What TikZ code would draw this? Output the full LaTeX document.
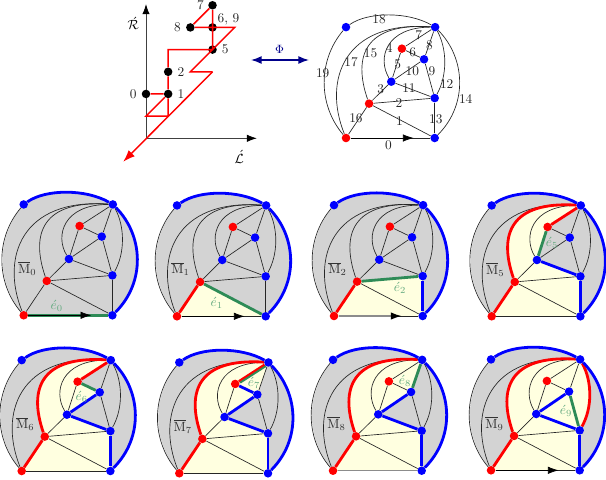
\documentclass[tikz,border=0pt]{standalone}
\usepackage{amsmath}
\usepackage{tikz}
\usetikzlibrary{positioning, arrows.meta, calc, backgrounds}

\definecolor{regiongray}{RGB}{211,211,211}
\definecolor{regionyellow}{RGB}{255,255,224}
\definecolor{peelgreen}{RGB}{46,139,87}
\definecolor{peellabel}{RGB}{100,170,128}
\definecolor{phiblue}{RGB}{0,0,139}

% curved edges of the map, start point given where they are used
\newcommand{\edgefour}{.. controls (1.4,3.6) and (1.8,5) ..}
\newcommand{\edgetwelve}{.. controls (4.57,2.8) and (4.57,4) ..}
\newcommand{\edgetwelveback}{.. controls (4.57,4) and (4.57,2.8) ..}
\newcommand{\edgefourteen}{.. controls (5.5,1.5) and (5.4,3.6) ..}
\newcommand{\edgefourteenback}{.. controls (5.4,3.6) and (5.5,1.5) ..}
\newcommand{\edgefifteen}{.. controls (0.3,3.7) and (0.85,5.2) ..}
\newcommand{\edgeseventeen}{.. controls (-1.05,2.6) and (-0.1,5.3) ..}
\newcommand{\edgeeighteen}{.. controls (1,5.7) and (2.8,5.7) ..}
\newcommand{\edgenineteen}{.. controls (-1.27,1.5) and (-1.27,3.5) ..}

% vertices first, everything else goes underneath them
% #1 shift, #2 prefix, #3 fills, #4 heavy edges and labels
\newcommand{\planarmap}[4]{%
    \begin{scope}[shift={#1}, x=16.63pt, y=16.63pt, name prefix=#2-]
    \node[redv] (ll) at (0,0) {}; \node[bluev] (lr) at (4,0) {};
    \node[redv] (rc) at (1.04,1.55) {}; \node[bluev] (bd) at (4,1.8) {};
    \node[bluev] (be) at (2.04,2.54) {}; \node[bluev] (bf) at (3.52,3.55) {};
    \node[redv] (rg) at (2.52,4.03) {}; \node[bluev] (ur) at (4.02,5) {};
    \node[bluev] (ul) at (0,5) {};
    \coordinate (tipend) at (3.05,0);
    \begin{scope}[on background layer]
    #3
    \foreach \s/\t in {ll/lr, rc/lr, rc/bd, rc/be, ll/rc, be/rg, rg/bf, rg/ur, bf/ur, bf/bd, be/bf, be/bd, bd/lr}
        \draw[thinedge] (\s) -- (\t);
    \draw[thinedge] (be) \edgefour (ur);
    \draw[thinedge] (bd) \edgetwelve (ur);
    \draw[thinedge] (lr) \edgefourteen (ur);
    \draw[thinedge] (rc) \edgefifteen (ur);
    \draw[thinedge] (ll) \edgeseventeen (ur);
    \draw[thinedge] (ul) \edgeeighteen (ur);
    \draw[thinedge] (ll) \edgenineteen (ul);
    #4
    \end{scope}
    \end{scope}}

% gray outside of the outer face
\newcommand{\grayface}{\fill[regiongray] (ll.center) \edgenineteen (ul.center) \edgeeighteen (ur.center) \edgefourteenback (lr.center) -- cycle;}
% outer blue boundary, shared by all the panels
\newcommand{\blueouter}{\draw[blueedge] (lr) \edgefourteen (ur); \draw[blueedge] (ul) \edgeeighteen (ur);}
% red side up to the top right vertex
\newcommand{\redupper}{\draw[rededge] (ll) -- (rc); \draw[rededge] (rc) \edgefifteen (ur);}

\begin{document}
\begin{tikzpicture}[
        x=0.75pt, y=-0.75pt,
        vertex/.style={circle, inner sep=0pt, minimum size=6.4pt},
        redv/.style={vertex, fill=red},
        bluev/.style={vertex, fill=blue},
        blackv/.style={vertex, fill=black},
        thinedge/.style={draw=black!85, line width=0.5pt},
        blueedge/.style={draw=blue, line width=2.1pt},
        rededge/.style={draw=red, line width=2.1pt},
        greenedge/.style={draw=peelgreen, line width=2.1pt},
        tipedge/.style={draw=black, line width=0.5pt, -{Latex[length=8pt, width=5.5pt]}},
        redpath/.style={draw=red, line width=1.1pt},
        axis/.style={draw=black!75, line width=0.55pt, -{Latex[length=7.5pt, width=5.5pt, black]}},
        steplab/.style={font=\normalsize, text=black!85, inner sep=0pt},
        edgelab/.style={text=black!85, inner sep=0pt},
        maplab/.style={text=black!80, inner sep=0pt},
        peellab/.style={text=peellabel, inner sep=0pt},
    ]
    \useasboundingbox (0,0) rectangle (606,479);

    % Lattice walk
    \begin{scope}[shift={(146,138.3)}, x=16.63pt, y=16.63pt, name prefix=walk-]
    \coordinate (o) at (0,0); \coordinate (ytop) at (0,6.05); \coordinate (xend) at (5,0);
    \coordinate (w1) at (0,1); \coordinate (w2) at (1,1); \coordinate (w3) at (1,4);
    \coordinate (w4) at (4,5); \coordinate (w5) at (2,3); \coordinate (w6) at (3,3);
    \coordinate (w7) at (-1.03,-1.06);
    \draw[axis] (o) -- (ytop);
    \draw[axis] (o) -- (xend);
    \node[blackv] (p0) at (0,2) {}; \node[blackv] (p1) at (1,2) {};
    \node[blackv] (p2) at (1,3) {}; \node[blackv] (p5) at (3,4) {};
    \node[blackv] (p6) at (3,5) {}; \node[blackv] (p7) at (3,6) {};
    \node[blackv] (p8) at (2,5) {};
    \draw[redpath] (p0) -- (p1) -- (w1) -- (w2) -- (p1) -- (p2) -- (w3) -- (p5.center)
        -- (p6.center) -- (p7) -- (p8) -- (p6.center) -- (w4) -- (p5.center) -- (w5) -- (w6);
    \draw[redpath, -{Latex[length=9pt, width=6.5pt]}] (w6) -- (w7);
    \node[steplab, left=3.5pt of p0] (l0) {0}; \node[steplab, right=3.5pt of p1] (l1) {1};
    \node[steplab, right=3.5pt of p2] (l2) {2}; \node[steplab, right=3.5pt of p5] (l5) {5};
    \node[steplab] (l69) at (3.72,5.38) {6, 9}; \node[steplab, left=3pt of p7] (l7) {7};
    \node[steplab, left=3.5pt of p8] (l8) {8};
    \node[inner sep=0pt] (ylab) at (-0.57,5.18) {$\acute{\mathcal{R}}$};
    \node[inner sep=0pt] (xlab) at (4.2,-0.83) {$\acute{\mathcal{L}}$};
    \end{scope}

    % Bijection arrow
    \coordinate (phil) at (251,60); \coordinate (phir) at (309,60);
    \draw[draw=phiblue, line width=1.1pt, {Latex[length=8pt, width=6pt]}-{Latex[length=8pt, width=6pt]}] (phil) -- (phir);
    \node[text=phiblue, font=\small, inner sep=0pt] (philab) at (279.5,49) {$\Phi$};

    % Labelled map
    \planarmap{(346,138)}{top}{}{
        \draw[tipedge] (ll) -- (tipend);
        \foreach \lx/\ly/\txt in {1.49/5.37/18, 3.28/4.62/7, 1.95/4.08/4, 1.11/3.82/15, 3.01/3.86/6,
            3.76/4.2/8, .23/3.4/17, 2.33/3.32/5, 2.99/2.99/10, 3.88/2.99/9, -1.05/2.92/19,
            1.56/2.2/3, 2.84/2.24/11, 4.54/2.44/12, 5.4/1.74/14, 2.39/1.59/2, .45/.9/16,
            4.05/.87/13, 2.41/.75/1, 1.91/-.32/0}
            \node[edgelab] (e\txt) at (\lx,\ly) {\txt};
    }

    % Row 1
    \planarmap{(23.7,315.3)}{mzero}{\grayface}{
        \draw[greenedge] (ll) -- (lr);
        \draw[tipedge] (ll) -- (tipend);
        \blueouter
        \node[maplab] (mlab) at (0.16,2.12) {$\overline{\mathrm{M}}_0$};
        \node[peellab] (elab) at (1.49,0.44) {$\acute{e}_0$};
    }
    \planarmap{(177,316.3)}{mone}{\grayface
        \fill[regionyellow] (ll.center) -- (rc.center) -- (lr.center) -- cycle;}{
        \draw[tipedge] (ll) -- (tipend);
        \draw[rededge] (ll) -- (rc);
        \draw[greenedge] (rc) -- (lr);
        \blueouter
        \node[maplab] (mlab) at (0.16,2.14) {$\overline{\mathrm{M}}_1$};
        \node[peellab] (elab) at (1.79,0.59) {$\acute{e}_1$};
    }
    \planarmap{(334,316)}{mtwo}{\grayface
        \fill[regionyellow] (ll.center) -- (rc.center) -- (bd.center) -- (lr.center) -- cycle;}{
        \draw[draw=black!45, line width=1pt, -{Latex[length=8pt, width=5.5pt, black]}] (ll) -- (tipend);
        \draw[rededge] (ll) -- (rc);
        \draw[greenedge] (rc) -- (bd);
        \draw[blueedge] (bd) -- (lr);
        \blueouter
        \node[maplab] (mlab) at (0.16,2.12) {$\overline{\mathrm{M}}_2$};
        \node[peellab] (elab) at (2.98,1.25) {$\acute{e}_2$};
    }
    \planarmap{(491.7,316.3)}{mfive}{\grayface
        \fill[regionyellow] (ll.center) -- (rc.center) \edgefifteen (ur.center) -- (rg.center) -- (be.center) -- (bd.center) -- (lr.center) -- cycle;}{
        \redupper
        \draw[rededge] (ur) -- (rg);
        \draw[greenedge] (rg) -- (be);
        \draw[blueedge] (be) -- (bd);
        \draw[blueedge] (bd) -- (lr);
        \blueouter
        \node[maplab] (mlab) at (0.16,2.12) {$\overline{\mathrm{M}}_5$};
        \node[peellab] (elab) at (2.72,3.32) {$\acute{e}_5$};
    }

    % Row 2
    \planarmap{(21.7,471)}{msix}{\grayface
        \fill[regionyellow] (ll.center) -- (rc.center) \edgefifteen (ur.center) -- (rg.center) -- (bf.center) -- (be.center) -- (bd.center) -- (lr.center) -- cycle;}{
        \redupper
        \draw[rededge] (ur) -- (rg);
        \draw[greenedge] (rg) -- (bf);
        \draw[blueedge] (bf) -- (be);
        \draw[blueedge] (be) -- (bd);
        \draw[blueedge] (bd) -- (lr);
        \blueouter
        \node[maplab] (mlab) at (0.16,2.12) {$\overline{\mathrm{M}}_6$};
        \node[peellab] (elab) at (2.71,3.35) {$\acute{e}_6$};
    }
    \planarmap{(179.3,473.3)}{mseven}{\grayface
        \fill[regionyellow] (ll.center) -- (rc.center) \edgefifteen (ur.center) -- (bf.center) -- (be.center) -- (bd.center) -- (lr.center) -- cycle;}{
        \redupper
        \draw[rededge] (ur) -- (rg);
        \draw[greenedge, line width=1.4pt, transform canvas={xshift=0.9pt, yshift=-0.9pt}] (rg) -- (ur);
        \draw[blueedge] (rg) -- (bf);
        \draw[blueedge] (bf) -- (be);
        \draw[blueedge] (be) -- (bd);
        \draw[blueedge] (bd) -- (lr);
        \blueouter
        \node[maplab] (mlab) at (0.16,2.12) {$\overline{\mathrm{M}}_7$};
        \node[peellab] (elab) at (3.37,4.06) {$\acute{e}_7$};
    }
    \planarmap{(333,470.7)}{meight}{\grayface
        \fill[regionyellow] (ll.center) -- (rc.center) \edgefifteen (ur.center) -- (bf.center) -- (be.center) -- (bd.center) -- (lr.center) -- cycle;}{
        \draw[draw=black!45, line width=1pt] (ll) -- (lr);
        \redupper
        \draw[greenedge] (ur) -- (bf);
        \draw[blueedge] (bf) -- (be);
        \draw[blueedge] (be) -- (bd);
        \draw[blueedge] (bd) -- (lr);
        \blueouter
        \node[maplab] (mlab) at (0.16,2.12) {$\overline{\mathrm{M}}_8$};
        \node[peellab] (elab) at (3.25,4.06) {$\acute{e}_8$};
    }
    \planarmap{(491,470.3)}{mnine}{\grayface
        \fill[regionyellow] (ll.center) -- (rc.center) \edgefifteen (ur.center) \edgetwelveback (bd.center) -- (lr.center) -- cycle;}{
        \draw[tipedge] (ll) -- (tipend);
        \redupper
        \draw[rededge] (bd) \edgetwelve (ur);
        \draw[greenedge] (bf) -- (bd);
        \draw[blueedge] (bf) -- (be);
        \draw[blueedge] (be) -- (bd);
        \draw[blueedge] (bd) -- (lr);
        \blueouter
        \node[maplab] (mlab) at (0.16,2.12) {$\overline{\mathrm{M}}_9$};
        \node[peellab] (elab) at (3.38,2.69) {$\acute{e}_9$};
    }
\end{tikzpicture}
\end{document}
